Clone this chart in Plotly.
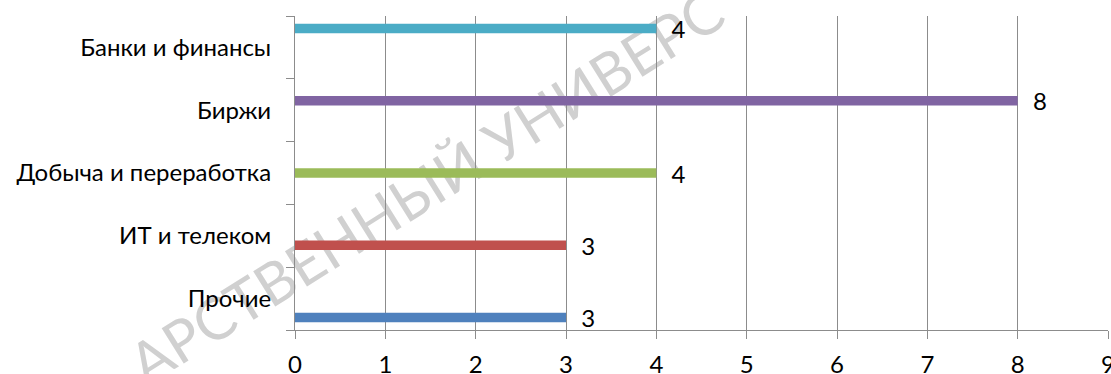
import math
import plotly.graph_objects as go

categories = ["Прочие", "ИТ и телеком", "Добыча и переработка", "Биржи", "Банки и финансы"]
values = [3, 3, 4, 8, 4]
colors = ["#4F81BD", "#C0504D", "#9BBB59", "#8064A2", "#4BACC6"]
x_ticks = list(range(0, 10))
watermark = "АРСТВЕННЫЙ УНИВЕРС"

FONT = "Lato"
GRID = "#8c8c8c"

fig = go.Figure()
for i, (cat, val, col) in enumerate(zip(categories, values, colors)):
    fig.add_trace(go.Bar(
        y=[cat], x=[val], orientation="h", offsetgroup=str(i),
        marker=dict(color=col, line=dict(width=0)),
        text=["\u00a0\u00a0" + str(val)],
        textposition="outside", constraintext="none", cliponaxis=False,
        textfont=dict(family=FONT, size=24, color="#000000"),
        showlegend=False, hoverinfo="skip",
    ))

# watermark drawn beneath gridlines and bars, as a label on an invisible line
L, R, T, B = 295, 1108, 16, 330
def px(x):
    return (x - L) / (R - L)
def py(y):
    return (B - y) / (B - T)
cx, cy, half = 425, 185, 300
a = math.radians(32)
fig.add_shape(
    type="line", xref="paper", yref="paper", layer="below",
    x0=px(cx - half * math.cos(a)), y0=py(cy + half * math.sin(a)),
    x1=px(cx + half * math.cos(a)), y1=py(cy - half * math.sin(a)),
    line=dict(color="rgba(0,0,0,0)", width=0),
    label=dict(text=watermark, textposition="middle", textangle=-32,
               xanchor="center", yanchor="middle",
               font=dict(family=FONT, size=58, color="#d0d0d0")),
)

fig.update_layout(
    width=1111, height=374,
    margin=dict(l=L, r=1111 - R, t=T, b=374 - B, autoexpand=False),
    paper_bgcolor="white", plot_bgcolor="white",
    barmode="group", bargap=0.244, bargroupgap=0,
    font=dict(family=FONT, size=24, color="#000000"),
    xaxis=dict(
        range=[0, 9], tickvals=x_ticks, ticktext=[str(v) for v in x_ticks],
        showgrid=True, gridcolor=GRID, gridwidth=1,
        showline=True, linecolor=GRID, linewidth=1,
        ticks="outside", ticklen=8, tickcolor=GRID, tickwidth=1,
        zeroline=False, ticklabelstandoff=5, ticklabeloverflow="allow",
        automargin=False,
        tickfont=dict(family=FONT, size=24, color="#000000"),
    ),
    yaxis=dict(
        type="category", categoryorder="array", categoryarray=categories,
        showgrid=False, showline=True, linecolor=GRID, linewidth=1,
        ticks="outside", ticklen=8, tickcolor=GRID, tickwidth=1,
        tickson="boundaries", ticklabelstandoff=18, automargin=False,
        tickfont=dict(family=FONT, size=24, color="#000000"),
    ),
)

fig.write_html("out.html")
